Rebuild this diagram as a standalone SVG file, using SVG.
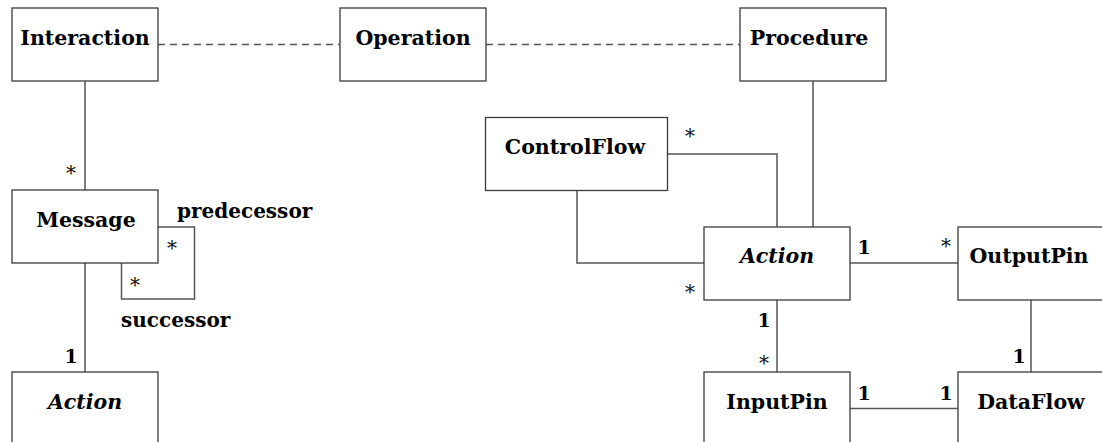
<svg xmlns="http://www.w3.org/2000/svg" width="1102" height="442" viewBox="0 0 1102 442">
  <style>
    .box { fill: #ffffff; stroke: #3a3a3a; stroke-width: 1.3; }
    .name { font-family: "DejaVu Serif", "Liberation Serif", serif; font-size: 20.5px; font-weight: bold; text-anchor: middle; fill: #000; }
    .abstract { font-style: italic; }
    .link { fill: none; stroke: #555; stroke-width: 1.5; }
    .dep { fill: none; stroke: #555; stroke-width: 1.3; stroke-dasharray: 7 5; }
    .mult { font-family: "DejaVu Serif", "Liberation Serif", serif; font-size: 19px; font-weight: bold; text-anchor: middle; fill: #000; }
    .star { font-family: "DejaVu Serif", "Liberation Serif", serif; font-size: 20px; text-anchor: middle; fill: #111; }
    .role { font-family: "DejaVu Serif", "Liberation Serif", serif; font-size: 20px; font-weight: bold; fill: #000; }
  </style>

  <!-- associations and dependencies -->
  <g id="connectors">
    <line class="dep" x1="158" y1="44.5" x2="340" y2="44.5"/>
    <line class="dep" x1="486" y1="44.5" x2="740" y2="44.5"/>
    <line class="link" x1="85" y1="81" x2="85" y2="190"/>
    <polyline class="link" points="158,227 194.5,227 194.5,299 121.5,299 121.5,263"/>
    <line class="link" x1="85" y1="263" x2="85" y2="372"/>
    <line class="link" x1="813" y1="81" x2="813" y2="227"/>
    <polyline class="link" points="667,154 777,154 777,227"/>
    <polyline class="link" points="577,190 577,263 704,263"/>
    <line class="link" x1="850" y1="263" x2="958" y2="263"/>
    <line class="link" x1="777" y1="300" x2="777" y2="372"/>
    <line class="link" x1="1031" y1="300" x2="1031" y2="372"/>
    <line class="link" x1="850" y1="408.5" x2="958" y2="408.5"/>

    <!-- multiplicities -->
    <text class="star" x="71" y="180">*</text>
    <text class="star" x="172" y="255">*</text>
    <text class="star" x="135" y="292">*</text>
    <text class="mult" x="71" y="363">1</text>
    <text class="star" x="690" y="143">*</text>
    <text class="star" x="690" y="299">*</text>
    <text class="mult" x="864" y="254">1</text>
    <text class="star" x="946" y="253">*</text>
    <text class="mult" x="764" y="327">1</text>
    <text class="star" x="764" y="370">*</text>
    <text class="mult" x="864" y="400">1</text>
    <text class="mult" x="946" y="400">1</text>
    <text class="mult" x="1019" y="363">1</text>

    <!-- role names -->
    <text class="role" x="177" y="218">predecessor</text>
    <text class="role" x="121" y="327">successor</text>
  </g>

  <g id="interaction">
    <rect class="box" x="12" y="8" width="146" height="73"/>
    <text class="name" x="85" y="45">Interaction</text>
  </g>
  <g id="operation">
    <rect class="box" x="340" y="8" width="146" height="73"/>
    <text class="name" x="413" y="45">Operation</text>
  </g>
  <g id="procedure">
    <rect class="box" x="740" y="8" width="146" height="73"/>
    <text class="name" x="809" y="45">Procedure</text>
  </g>
  <g id="message">
    <rect class="box" x="12" y="190" width="146" height="73"/>
    <text class="name" x="86" y="227">Message</text>
  </g>
  <g id="action-left">
    <rect class="box" x="12" y="372" width="146" height="73"/>
    <text class="name abstract" x="85" y="409">Action</text>
  </g>
  <g id="controlflow">
    <rect class="box" x="485.5" y="117.5" width="182" height="73"/>
    <text class="name" x="575" y="154">ControlFlow</text>
  </g>
  <g id="action">
    <rect class="box" x="704" y="227" width="146" height="73"/>
    <text class="name abstract" x="777" y="263">Action</text>
  </g>
  <g id="outputpin">
    <rect class="box" x="958" y="227" width="146" height="73"/>
    <text class="name" x="1029" y="263">OutputPin</text>
  </g>
  <g id="inputpin">
    <rect class="box" x="704" y="372" width="146" height="73"/>
    <text class="name" x="777" y="409">InputPin</text>
  </g>
  <g id="dataflow">
    <rect class="box" x="958" y="372" width="146" height="73"/>
    <text class="name" x="1031" y="409">DataFlow</text>
  </g>
</svg>
